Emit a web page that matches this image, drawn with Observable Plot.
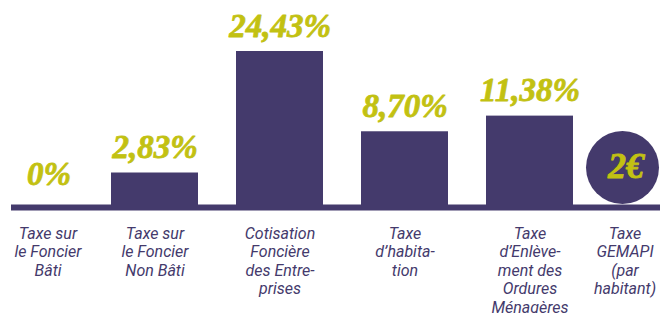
<!DOCTYPE html>
<html><head><meta charset="utf-8">
<script src="https://cdn.jsdelivr.net/npm/d3@7"></script>
<script src="https://cdn.jsdelivr.net/npm/@observablehq/plot@0.6"></script>
<style>body{margin:0;background:#fff;}</style>
</head><body><div id="chart"></div>
<script>
const categories = [
  "Taxe sur\nle Foncier\nBâti",
  "Taxe sur\nle Foncier\nNon Bâti",
  "Cotisation\nFoncière\ndes Entre-\nprises",
  "Taxe\nd’habita-\ntion",
  "Taxe\nd’Enlève-\nment des\nOrdures\nMénagères",
  "Taxe\nGEMAPI\n(par\nhabitant)"
];
const values = [0, 2.83, 24.43, 8.70, 11.38, 2];
const valueLabels = ["0%", "2,83%", "24,43%", "8,70%", "11,38%", "2€"];
const kinds = ["bar", "bar", "bar", "bar", "bar", "circle"];

const PURPLE = "#443a6c";
const GOLD = "#c2c112";

const rows = categories.map((c, i) => ({cat: c, value: values[i], label: valueLabels[i], kind: kinds[i]}));
const bars = rows.filter(d => d.kind === "bar");
const firstRow = bars.slice(0, 1);
const midBars = bars.slice(1);
const circleRows = rows.filter(d => d.kind === "circle");

const valueFont = {fontFamily: "Liberation Serif", fontWeight: "bold", fontStyle: "italic", fontSize: 33, fill: GOLD, stroke: GOLD, strokeWidth: 0.8, textAnchor: "middle"};
const catFont = {fontFamily: "Roboto", fontStyle: "italic", fontSize: 16, fill: PURPLE, textAnchor: "middle", lineAnchor: "top", lineHeight: 1.16, frameAnchor: "bottom", dy: 15};

const chart = Plot.plot({
  width: 660,
  height: 313,
  marginLeft: 11,
  marginRight: 0,
  marginTop: 0,
  marginBottom: 103,
  style: {background: "#fff"},
  x: {type: "band", domain: categories, range: [-55, 739], paddingInner: 0.3016, paddingOuter: 0.3016, axis: null},
  y: {type: "pow", exponent: 0.7, domain: [0, 24.43], range: [207, 51], axis: null},
  marks: [
    Plot.barY(midBars, {x: "cat", y: "value", fill: PURPLE}),
    Plot.ruleY([0], {stroke: PURPLE, strokeWidth: 6}),
    Plot.text(midBars, {x: "cat", y: "value", text: "label", lineAnchor: "bottom", dy: -15, ...valueFont}),
    Plot.text(firstRow, {x: "cat", y: "value", text: "label", lineAnchor: "bottom", dy: -23, dx: 19, ...valueFont}),
    Plot.dot(circleRows, {x: "cat", frameAnchor: "bottom", dx: -32.5, dy: -43, r: 36.5, fill: PURPLE}),
    Plot.text(circleRows, {x: "cat", frameAnchor: "bottom", dx: -29, dy: -44, text: "label", lineAnchor: "middle", ...valueFont, fontSize: 36}),
    Plot.text(midBars, {x: "cat", text: "cat", ...catFont}),
    Plot.text(firstRow, {x: "cat", text: "cat", dx: 18, ...catFont}),
    Plot.text(circleRows, {x: "cat", text: "cat", dx: -30, ...catFont})
  ]
});
document.getElementById("chart").appendChild(chart);
</script>
</body></html>
